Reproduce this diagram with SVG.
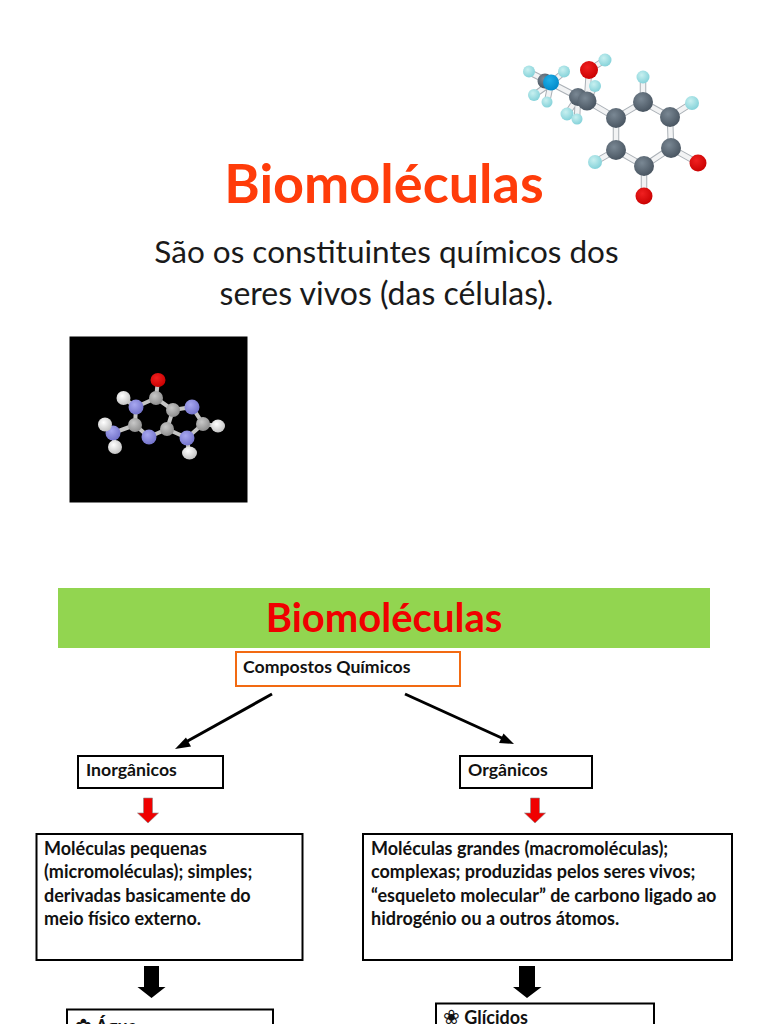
<svg xmlns="http://www.w3.org/2000/svg" width="768" height="1024" viewBox="0 0 768 1024">
<style>
text{font-family:"Lato","Carlito","Open Sans",sans-serif}
.t{font-weight:700;font-size:17.700px;fill:#111}
.d{font-weight:700;font-size:18px;fill:#111}
.g{font-family:"DejaVu Sans",sans-serif;font-size:20px}
.bo{stroke:#aab0b6;stroke-width:6.500;stroke-linecap:round;fill:none}
.bond{stroke:#f2f3f4;stroke-width:4.500;stroke-linecap:round;fill:none}
.b2{stroke:#c4c4c4;stroke-width:4;stroke-linecap:round;fill:none}
.box{fill:#fff;stroke:#000;stroke-width:2}
</style>
<defs>
<radialGradient id="gC" cx=".4" cy=".35" r=".7"><stop offset="0" stop-color="#7a8894"/><stop offset="1" stop-color="#46525e"/></radialGradient>
<radialGradient id="gH" cx=".4" cy=".35" r=".7"><stop offset="0" stop-color="#c8f0f0"/><stop offset="1" stop-color="#80d0d8"/></radialGradient>
<radialGradient id="gO" cx=".4" cy=".35" r=".7"><stop offset="0" stop-color="#f02020"/><stop offset="1" stop-color="#c80000"/></radialGradient>
<radialGradient id="gN" cx=".4" cy=".35" r=".7"><stop offset="0" stop-color="#20b0e8"/><stop offset="1" stop-color="#0088c8"/></radialGradient>
<radialGradient id="g2C" cx=".4" cy=".35" r=".7"><stop offset="0" stop-color="#c8c8c8"/><stop offset="1" stop-color="#8a8a8a"/></radialGradient>
<radialGradient id="g2H" cx=".4" cy=".35" r=".7"><stop offset="0" stop-color="#ffffff"/><stop offset="1" stop-color="#c0c0c0"/></radialGradient>
<radialGradient id="g2N" cx=".4" cy=".35" r=".7"><stop offset="0" stop-color="#a8a8f0"/><stop offset="1" stop-color="#7070c8"/></radialGradient>
<path id="bonds" d="M616 118L643 102L670 117L671 148L644 166L616 150ZM644 166L644 196M671 148L698 163M616 150L595 162M643 102L643 77M670 117L692 103M616 118L587 101M587 101L589 70M589 70L605 60M578 97L551 83M551 83L529 72M551 83L564 72M551 83L534 95M551 83L547 102M578 97L567 114M578 97L577 119M587 101L595 86"/>
</defs>
<rect width="768" height="1024" fill="#fff"/>
<text x="384" y="203" text-anchor="middle" font-size="54" font-weight="700" fill="#ff3c0a">Biomoléculas</text>
<text x="386.500" y="262.500" text-anchor="middle" font-size="31.500" fill="#1a1a1a">São os constituintes químicos dos</text>
<text x="386.500" y="304.500" text-anchor="middle" font-size="32" fill="#1a1a1a">seres vivos (das células).</text>
<g id="molecule-top">
<use href="#bonds" class="bo"/><use href="#bonds" class="bond"/>
<g fill="url(#gH)"><circle cx="529" cy="71.500" r="6"/><circle cx="564" cy="71.500" r="6"/><circle cx="534" cy="95" r="6"/><circle cx="547" cy="102" r="5.500"/><circle cx="595" cy="86" r="6"/><circle cx="567" cy="114" r="6.500"/><circle cx="577" cy="119" r="5.500"/><circle cx="605" cy="60" r="6.500"/><circle cx="643" cy="77" r="6.500"/><circle cx="692" cy="103" r="7"/><circle cx="595" cy="162" r="7"/></g>
<g fill="url(#gC)"><circle cx="545" cy="81" r="7.500"/><circle cx="578" cy="97" r="9"/><circle cx="587" cy="101" r="9.500"/><circle cx="616" cy="118" r="10"/><circle cx="643" cy="102" r="10"/><circle cx="670" cy="117" r="10"/><circle cx="671" cy="148" r="10"/><circle cx="644" cy="166" r="10"/><circle cx="616" cy="150" r="10"/></g>
<circle cx="551" cy="82.500" r="8" fill="url(#gN)"/>
<g fill="url(#gO)"><circle cx="589" cy="70" r="9"/><circle cx="698" cy="163" r="8.500"/><circle cx="644" cy="196" r="8.500"/></g>
</g>
<g id="molecule-black">
<rect x="69.500" y="336.500" width="178" height="166" fill="#000"/>
<path class="b2" d="M156 398L136 407L135 425L149 437L167 429L173 410ZM173 410L192 407L203 424L187 438L167 429M156 398L158 380M136 407L123 398M135 425L113 433M113 433L105 425M113 433L115 447M203 424L218 426M187 438L189 453"/>
<g fill="url(#g2C)"><circle cx="156" cy="398" r="7"/><circle cx="135" cy="425" r="7"/><circle cx="167" cy="429" r="7"/><circle cx="173" cy="410" r="7"/><circle cx="203" cy="424" r="7"/></g>
<g fill="url(#g2N)"><circle cx="136" cy="407" r="7.500"/><circle cx="113" cy="433" r="7.500"/><circle cx="149" cy="437" r="7.500"/><circle cx="192" cy="407" r="7.500"/><circle cx="187" cy="438" r="7.500"/></g>
<g fill="url(#g2H)"><circle cx="123.500" cy="398" r="7"/><circle cx="105" cy="424.500" r="7"/><circle cx="115" cy="447" r="7"/><ellipse cx="218" cy="426" rx="7" ry="6.500"/><ellipse cx="189.500" cy="453" rx="7.500" ry="6.500"/></g>
<ellipse cx="158" cy="380" rx="7.500" ry="7" fill="url(#gO)"/>
</g>
<rect x="58" y="588" width="652" height="60" fill="#92d550"/>
<text x="384" y="632" text-anchor="middle" font-size="40" font-weight="700" fill="#f00000">Biomoléculas</text>
<g id="connectors">
<path d="M272 694L184 743" stroke="#000" stroke-width="3" fill="none"/>
<path d="M175 749L186 737.500L191 746.500Z" fill="#000"/>
<path d="M405 694L504 739" stroke="#000" stroke-width="3" fill="none"/>
<path d="M514 744L499 743L503.500 733.500Z" fill="#000"/>
<path d="M143.500 798H152.500V813H158.500L148 823L137.500 813H143.500Z" fill="#f00000" stroke="#888" stroke-width=".6"/>
<path d="M530.500 798H539.500V813H545.500L535 823L524.500 813H530.500Z" fill="#f00000" stroke="#888" stroke-width=".6"/>
<path d="M144 966H159V987H165.500L151.500 998L137.500 987H144Z" fill="#000"/>
<path d="M519 966H535V987H541.500L527 998L513 987H519Z" fill="#000"/>
</g>
<g id="compostos"><rect x="236" y="652" width="224" height="34" fill="#fff" stroke="#f26a12" stroke-width="2"/><text class="t" x="243" y="673">Compostos Químicos</text></g>
<g id="inorganicos"><rect class="box" x="78" y="756" width="145" height="32"/><text class="t" x="86" y="776">Inorgânicos</text></g>
<g id="organicos"><rect class="box" x="460" y="756" width="132" height="32"/><text class="t" x="468" y="776">Orgânicos</text></g>
<g id="desc-inorganicos"><rect class="box" x="36.500" y="834" width="266" height="126" stroke-width="2.500"/>
<text class="d" x="44" y="855">Moléculas pequenas</text><text class="d" x="44" y="878">(micromoléculas); simples;</text><text class="d" x="44" y="902">derivadas basicamente do</text><text class="d" x="44" y="925">meio físico externo.</text></g>
<g id="desc-organicos"><rect class="box" x="363" y="834" width="369" height="126" stroke-width="2.500"/>
<text class="d" x="371" y="855">Moléculas grandes (macromoléculas);</text><text class="d" x="371" y="878">complexas; produzidas pelos seres vivos;</text><text class="d" x="371" y="902">“esqueleto molecular” de carbono ligado ao</text><text class="d" x="371" y="925">hidrogénio ou a outros átomos.</text></g>
<g id="agua"><rect class="box" x="67" y="1009.500" width="206" height="30"/><text class="d" x="75" y="1033"><tspan class="g">✿</tspan> Água</text></g>
<g id="glicidos"><rect class="box" x="436" y="1003.500" width="218" height="36"/><text class="d" x="443" y="1024"><tspan class="g">❀</tspan> Glícidos</text></g>
</svg>
